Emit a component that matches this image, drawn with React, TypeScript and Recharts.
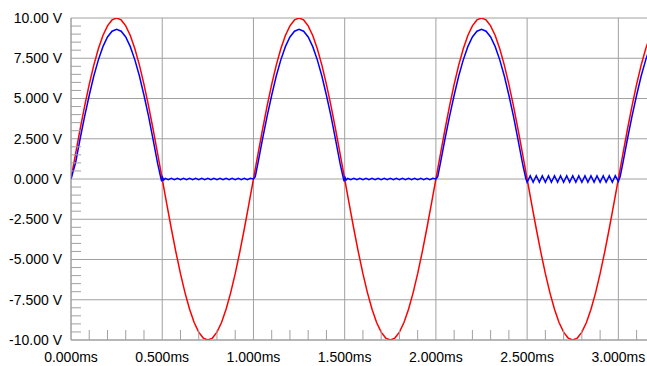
import React from 'react';
import { LineChart, Line, XAxis, YAxis, CartesianGrid } from 'recharts';

// Input sine (red): time in ms, volts
const inputTime = [
  0, 0.025, 0.05, 0.075, 0.1, 0.125, 0.15, 0.175, 0.2, 0.225,
  0.25, 0.275, 0.3, 0.325, 0.35, 0.375, 0.4, 0.425, 0.45, 0.475,
  0.5, 0.525, 0.55, 0.575, 0.6, 0.625, 0.65, 0.675, 0.7, 0.725,
  0.75, 0.775, 0.8, 0.825, 0.85, 0.875, 0.9, 0.925, 0.95, 0.975,
  1, 1.025, 1.05, 1.075, 1.1, 1.125, 1.15, 1.175, 1.2, 1.225,
  1.25, 1.275, 1.3, 1.325, 1.35, 1.375, 1.4, 1.425, 1.45, 1.475,
  1.5, 1.525, 1.55, 1.575, 1.6, 1.625, 1.65, 1.675, 1.7, 1.725,
  1.75, 1.775, 1.8, 1.825, 1.85, 1.875, 1.9, 1.925, 1.95, 1.975,
  2, 2.025, 2.05, 2.075, 2.1, 2.125, 2.15, 2.175, 2.2, 2.225,
  2.25, 2.275, 2.3, 2.325, 2.35, 2.375, 2.4, 2.425, 2.45, 2.475,
  2.5, 2.525, 2.55, 2.575, 2.6, 2.625, 2.65, 2.675, 2.7, 2.725,
  2.75, 2.775, 2.8, 2.825, 2.85, 2.875, 2.9, 2.925, 2.95, 2.975,
  3, 3.025, 3.05, 3.075, 3.1, 3.125, 3.15, 3.175,
];
const inputVolts = [
  0, 1.56, 3.09, 4.54, 5.88, 7.07, 8.09, 8.91, 9.51, 9.88,
  10, 9.88, 9.51, 8.91, 8.09, 7.07, 5.88, 4.54, 3.09, 1.56,
  0, -1.56, -3.09, -4.54, -5.88, -7.07, -8.09, -8.91, -9.51, -9.88,
  -10, -9.88, -9.51, -8.91, -8.09, -7.07, -5.88, -4.54, -3.09, -1.56,
  0, 1.56, 3.09, 4.54, 5.88, 7.07, 8.09, 8.91, 9.51, 9.88,
  10, 9.88, 9.51, 8.91, 8.09, 7.07, 5.88, 4.54, 3.09, 1.56,
  0, -1.56, -3.09, -4.54, -5.88, -7.07, -8.09, -8.91, -9.51, -9.88,
  -10, -9.88, -9.51, -8.91, -8.09, -7.07, -5.88, -4.54, -3.09, -1.56,
  0, 1.56, 3.09, 4.54, 5.88, 7.07, 8.09, 8.91, 9.51, 9.88,
  10, 9.88, 9.51, 8.91, 8.09, 7.07, 5.88, 4.54, 3.09, 1.56,
  0, -1.56, -3.09, -4.54, -5.88, -7.07, -8.09, -8.91, -9.51, -9.88,
  -10, -9.88, -9.51, -8.91, -8.09, -7.07, -5.88, -4.54, -3.09, -1.56,
  0, 1.56, 3.09, 4.54, 5.88, 7.07, 8.09, 8.91,
];

// Rectified output (blue), segment by segment
const outPulse1T = [0, 0.025, 0.05, 0.075, 0.1, 0.125, 0.15, 0.175, 0.2, 0.225, 0.25, 0.275, 0.3, 0.325, 0.35, 0.375, 0.4, 0.425, 0.45, 0.475, 0.4925];
const outPulse1V = [0, 1.0, 2.5, 3.9, 5.2, 6.4, 7.4, 8.22, 8.82, 9.18, 9.3, 9.18, 8.82, 8.22, 7.4, 6.4, 5.2, 3.9, 2.45, 0.95, 0.05];

const outOff1T = [0.497, 0.502, 0.508, 0.517, 0.533, 0.55, 0.567, 0.583, 0.6, 0.617, 0.633, 0.65, 0.667, 0.683, 0.7, 0.717, 0.733, 0.75, 0.767, 0.783, 0.8, 0.817, 0.833, 0.85, 0.867, 0.883, 0.9, 0.917, 0.933, 0.95, 0.967, 0.983];
const outOff1V = [-0.15, 0.1, -0.06, 0.04, -0.04, 0.04, -0.04, 0.04, -0.04, 0.04, -0.04, 0.04, -0.04, 0.04, -0.04, 0.04, -0.04, 0.04, -0.04, 0.04, -0.04, 0.04, -0.04, 0.04, -0.04, 0.04, -0.04, 0.04, -0.04, 0.04, -0.04, 0.04];

const outPulse2T = [1, 1.01, 1.025, 1.05, 1.075, 1.1, 1.125, 1.15, 1.175, 1.2, 1.225, 1.25, 1.275, 1.3, 1.325, 1.35, 1.375, 1.4, 1.425, 1.45, 1.475, 1.4925];
const outPulse2V = [0, 0.15, 1.0, 2.5, 3.9, 5.2, 6.4, 7.4, 8.22, 8.82, 9.18, 9.3, 9.18, 8.82, 8.22, 7.4, 6.4, 5.2, 3.9, 2.45, 0.95, 0.05];

const outOff2T = [1.497, 1.502, 1.508, 1.517, 1.533, 1.55, 1.567, 1.583, 1.6, 1.617, 1.633, 1.65, 1.667, 1.683, 1.7, 1.717, 1.733, 1.75, 1.767, 1.783, 1.8, 1.817, 1.833, 1.85, 1.867, 1.883, 1.9, 1.917, 1.933, 1.95, 1.967, 1.983];
const outOff2V = [-0.15, 0.1, -0.06, 0.04, -0.04, 0.04, -0.04, 0.04, -0.04, 0.04, -0.04, 0.04, -0.04, 0.04, -0.04, 0.04, -0.04, 0.04, -0.04, 0.04, -0.04, 0.04, -0.04, 0.04, -0.04, 0.04, -0.04, 0.04, -0.04, 0.04, -0.04, 0.04];

const outPulse3T = [2, 2.01, 2.025, 2.05, 2.075, 2.1, 2.125, 2.15, 2.175, 2.2, 2.225, 2.25, 2.275, 2.3, 2.325, 2.35, 2.375, 2.4, 2.425, 2.45, 2.475, 2.4925];
const outPulse3V = [0, 0.15, 1.0, 2.5, 3.9, 5.2, 6.4, 7.4, 8.22, 8.82, 9.18, 9.3, 9.18, 8.82, 8.22, 7.4, 6.4, 5.2, 3.9, 2.45, 0.95, 0.05];

const outOff3T = [2.5, 2.517, 2.533, 2.55, 2.567, 2.583, 2.6, 2.617, 2.633, 2.65, 2.667, 2.683, 2.7, 2.717, 2.733, 2.75, 2.767, 2.783, 2.8, 2.817, 2.833, 2.85, 2.867, 2.883, 2.9, 2.917, 2.933, 2.95, 2.967, 2.983];
const outOff3V = [-0.2, 0.2, -0.2, 0.2, -0.2, 0.2, -0.2, 0.2, -0.2, 0.2, -0.2, 0.2, -0.2, 0.2, -0.2, 0.2, -0.2, 0.2, -0.2, 0.2, -0.2, 0.2, -0.2, 0.2, -0.2, 0.2, -0.2, 0.2, -0.2, 0.2];

const outPulse4T = [3, 3.01, 3.025, 3.05, 3.075, 3.1, 3.125, 3.15, 3.175];
const outPulse4V = [-0.15, 0.15, 1.0, 2.5, 3.9, 5.2, 6.4, 7.4, 8.22];

const outputTime = [...outPulse1T, ...outOff1T, ...outPulse2T, ...outOff2T, ...outPulse3T, ...outOff3T, ...outPulse4T];
const outputVolts = [...outPulse1V, ...outOff1V, ...outPulse2V, ...outOff2V, ...outPulse3V, ...outOff3V, ...outPulse4V];

// Axes
const xDomain: [number, number] = [0, 3.157];
const yDomain: [number, number] = [-10, 10];
const xMajorTicks = [0, 0.5, 1, 1.5, 2, 2.5, 3];
const xTickLabels = ['0.000ms', '0.500ms', '1.000ms', '1.500ms', '2.000ms', '2.500ms', '3.000ms'];
const yMajorTicks = [10, 7.5, 5, 2.5, 0, -2.5, -5, -7.5, -10];
const yTickLabels = ['10.00 V', '7.500 V', '5.000 V', '2.500 V', '0.000 V', '-2.500 V', '-5.000 V', '-7.500 V', '-10.00 V'];
const xMinorTicks = [0.1, 0.2, 0.3, 0.4, 0.6, 0.7, 0.8, 0.9, 1.1, 1.2, 1.3, 1.4, 1.6, 1.7, 1.8, 1.9, 2.1, 2.2, 2.3, 2.4, 2.6, 2.7, 2.8, 2.9, 3.1];
const yMinorTicks = [9.5, 9, 8.5, 8, 7, 6.5, 6, 5.5, 4.5, 4, 3.5, 3, 2, 1.5, 1, 0.5, -0.5, -1, -1.5, -2, -3, -3.5, -4, -4.5, -5.5, -6, -6.5, -7, -8, -8.5, -9, -9.5];

const xAllTicks = [...xMajorTicks, ...xMinorTicks].sort((a, b) => a - b);
const yAllTicks = [...yMajorTicks, ...yMinorTicks].sort((a, b) => b - a);

const inputData = inputTime.map((t, i) => ({ t, vin: inputVolts[i] }));
const outputData = outputTime.map((t, i) => ({ t, vout: outputVolts[i] }));

const GRID = '#a0a0a0';
const FONT_FAMILY = '"Liberation Sans", Arial, Helvetica, sans-serif';
const X_MARGIN = 12;
const Y_MARGIN = 9;
const MINOR_LEN = 10;

const XTick = (props: any) => {
  const { x, y, payload } = props;
  const v = payload.value;
  const idx = xMajorTicks.indexOf(v);
  if (idx >= 0) {
    return (
      <text x={x} y={y} dy="0.71em" textAnchor="middle" fontFamily={FONT_FAMILY} fontSize={14} fill="#000">
        {xTickLabels[idx]}
      </text>
    );
  }
  const base = y - X_MARGIN;
  return <line x1={x} x2={x} y1={base} y2={base - MINOR_LEN} stroke={GRID} strokeWidth={1} />;
};

const YTick = (props: any) => {
  const { x, y, payload } = props;
  const v = payload.value;
  const idx = yMajorTicks.indexOf(v);
  if (idx >= 0) {
    return (
      <text x={x} y={y} dy="0.355em" textAnchor="end" fontFamily={FONT_FAMILY} fontSize={14} fill="#000">
        {yTickLabels[idx]}
      </text>
    );
  }
  const base = x + Y_MARGIN;
  return <line x1={base} x2={base + MINOR_LEN} y1={y} y2={y} stroke={GRID} strokeWidth={1} />;
};

export default function App() {
  return (
    <div style={{ position: 'absolute', left: 0, top: 0 }}>
      <LineChart width={647} height={366} margin={{ top: 18, right: 0, bottom: 0, left: 0 }}>
        <CartesianGrid stroke={GRID} strokeWidth={1} verticalValues={xMajorTicks} horizontalValues={yMajorTicks} />
        <XAxis
          dataKey="t"
          type="number"
          domain={xDomain}
          allowDataOverflow
          ticks={xAllTicks}
          interval={0}
          height={26}
          tickLine={false}
          tickSize={0}
          tickMargin={X_MARGIN}
          axisLine={{ stroke: GRID }}
          tick={<XTick />}
        />
        <YAxis
          type="number"
          domain={yDomain}
          allowDataOverflow
          ticks={yAllTicks}
          interval={0}
          width={71}
          tickLine={false}
          tickSize={0}
          tickMargin={Y_MARGIN}
          axisLine={{ stroke: GRID }}
          tick={<YTick />}
        />
        <Line data={inputData} dataKey="vin" type="linear" stroke="#ff0000" strokeWidth={1.5} dot={false} isAnimationActive={false} />
        <Line data={outputData} dataKey="vout" type="linear" stroke="#0000ff" strokeWidth={1.5} dot={false} isAnimationActive={false} />
      </LineChart>
    </div>
  );
}
